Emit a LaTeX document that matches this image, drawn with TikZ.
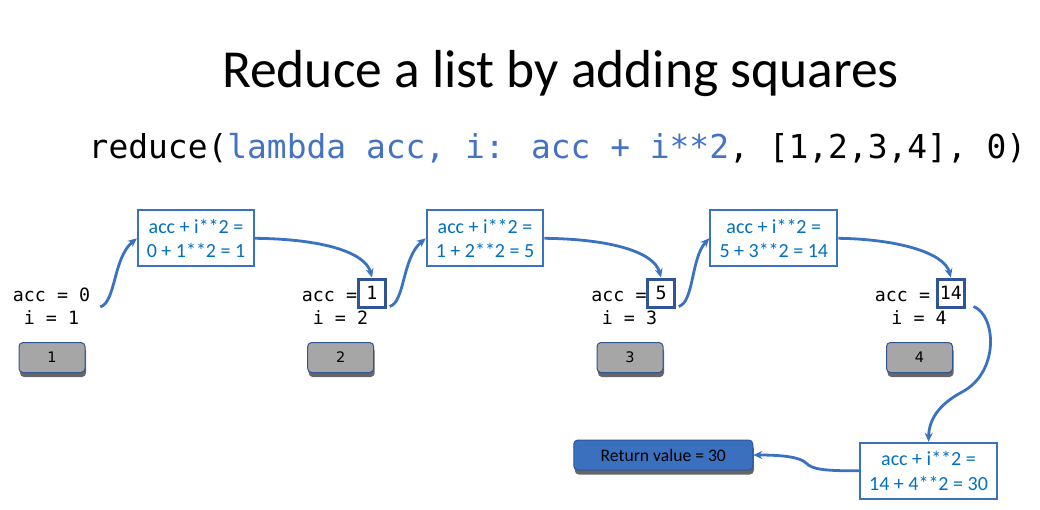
\documentclass[tikz,border=0pt]{standalone}
\usepackage{fontspec}
\setmainfont{Carlito}
\newfontfamily\codefont{DejaVu Sans Mono}
\newfontfamily\btnfont{DejaVu Sans}
\usetikzlibrary{shadows,arrows.meta}

\definecolor{codeblue}{HTML}{4472C4}
\definecolor{calcblue}{HTML}{0070C0}
\definecolor{linkblue}{HTML}{3A72C2}
\definecolor{navy}{HTML}{2F5597}
\definecolor{btngray}{HTML}{A6A6A6}
\definecolor{retblue}{HTML}{3A70BE}

\tikzset{
  calcbox/.style={draw=linkblue, line width=2, fill=white, minimum height=56,
    inner sep=0, align=center, text=calcblue,
    font=\fontsize{20}{24.5}\selectfont},
  valbox/.style={draw=navy, line width=3, minimum width=26.5, minimum height=28,
    inner sep=0, font=\codefont\fontsize{18.3}{22}\selectfont},
  statetext/.style={inner sep=0, anchor=base, font=\codefont\fontsize{18.3}{22}\selectfont},
  itembtn/.style={rounded corners=4, draw=navy, line width=1, fill=btngray,
    minimum width=66, minimum height=30, inner sep=0,
    font=\btnfont\fontsize{14.5}{16}\selectfont,
    drop shadow={shadow xshift=1pt, shadow yshift=-4.5pt, fill=black, opacity=0.6}},
  retbox/.style={rounded corners=4, draw=navy, line width=1, fill=retblue,
    minimum width=179, minimum height=30, inner sep=0,
    font=\fontsize{17.6}{20}\selectfont,
    drop shadow={shadow xshift=1pt, shadow yshift=-4.5pt, fill=black, opacity=0.6}},
  flow/.style={draw=linkblue, line width=2.8,
    -{Stealth[length=9pt,width=8pt]}}
}

\begin{document}
\begin{tikzpicture}[x=1pt,y=-1pt]
\useasboundingbox (0,0) rectangle (1040,509);

% heading and the call being illustrated
\node[inner sep=0, anchor=base, font=\fontsize{53.5}{60}\selectfont] (title) at (560.5,87)
  {Reduce a list by adding squares};
\node[inner sep=0, anchor=base, font=\codefont\fontsize{32.9}{38}\selectfont] (call) at (557.5,158)
  {reduce(\textcolor{codeblue}{lambda acc, i: acc + i**2}, [1,2,3,4], 0)};

% state before each step
\node[statetext] (acc1) at (51.5,301) {acc = 0};
\node[statetext] (i1) at (51.5,324) {i = 1};

\node[statetext] (acc2) at (340.5,301) {acc = \phantom{0}};
\node[valbox] (val2) at (372,293) {1};
\node[statetext] (i2) at (340.5,324) {i = 2};

\node[statetext] (acc3) at (630,301) {acc = \phantom{0}};
\node[valbox] (val3) at (661,293) {5};
\node[statetext] (i3) at (629.5,324) {i = 3};

\node[statetext] (acc4) at (919,301) {acc = \phantom{00}};
\node[valbox] (val4) at (950.8,293) {14};
\node[statetext] (i4) at (919,324) {i = 4};

% list items
\node[itembtn] (b1) at (52,357.5) {1};
\node[itembtn] (b2) at (340.7,357.5) {2};
\node[itembtn] (b3) at (630,357.5) {3};
\node[itembtn] (b4) at (919.5,357.5) {4};

% the lambda applied at each step
\node[calcbox, minimum width=116.3] (c1) at (196,238.3) {acc + i**2 =\\0 + 1**2 = 1};
\node[calcbox, minimum width=116.6] (c2) at (485,238.3) {acc + i**2 =\\1 + 2**2 = 5};
\node[calcbox, minimum width=127] (c3) at (773.8,238.3) {acc + i**2 =\\5 + 3**2 = 14};
\node[calcbox, minimum width=136.4] (c4) at (928.5,470.8) {acc + i**2 =\\14 + 4**2 = 30};

% result
\node[retbox] (ret) at (663.3,455) {Return value = 30};

% flow of the accumulator
\draw[flow] ([shift={(10,6)}]acc1.base east) .. controls (116,302) and (113,258) .. (c1.west);
\draw[flow] (c1.east) .. controls (322,239) and (365,252) .. (val2.north);
\draw[flow] ([shift={(3,-2)}]val2.south east) .. controls (405,302) and (402,258) .. (c2.west);
\draw[flow] (c2.east) .. controls (611,239) and (654,252) .. (val3.north);
\draw[flow] ([shift={(3,-2)}]val3.south east) .. controls (694,302) and (691,258) .. (c3.west);
\draw[flow] (c3.east) .. controls (895,239) and (944,252) .. (val4.north);
\draw[flow] ([shift={(8,-2)}]val4.south east) .. controls (996,315) and (1000,372) .. (962,392)
  .. controls (938,405) and (929,420) .. (c4.north);
\draw[flow] (c4.west) .. controls (822,471) and (812,469) .. (806,463)
  .. controls (800,457) and (782,455) .. (ret.east);
\end{tikzpicture}
\end{document}
